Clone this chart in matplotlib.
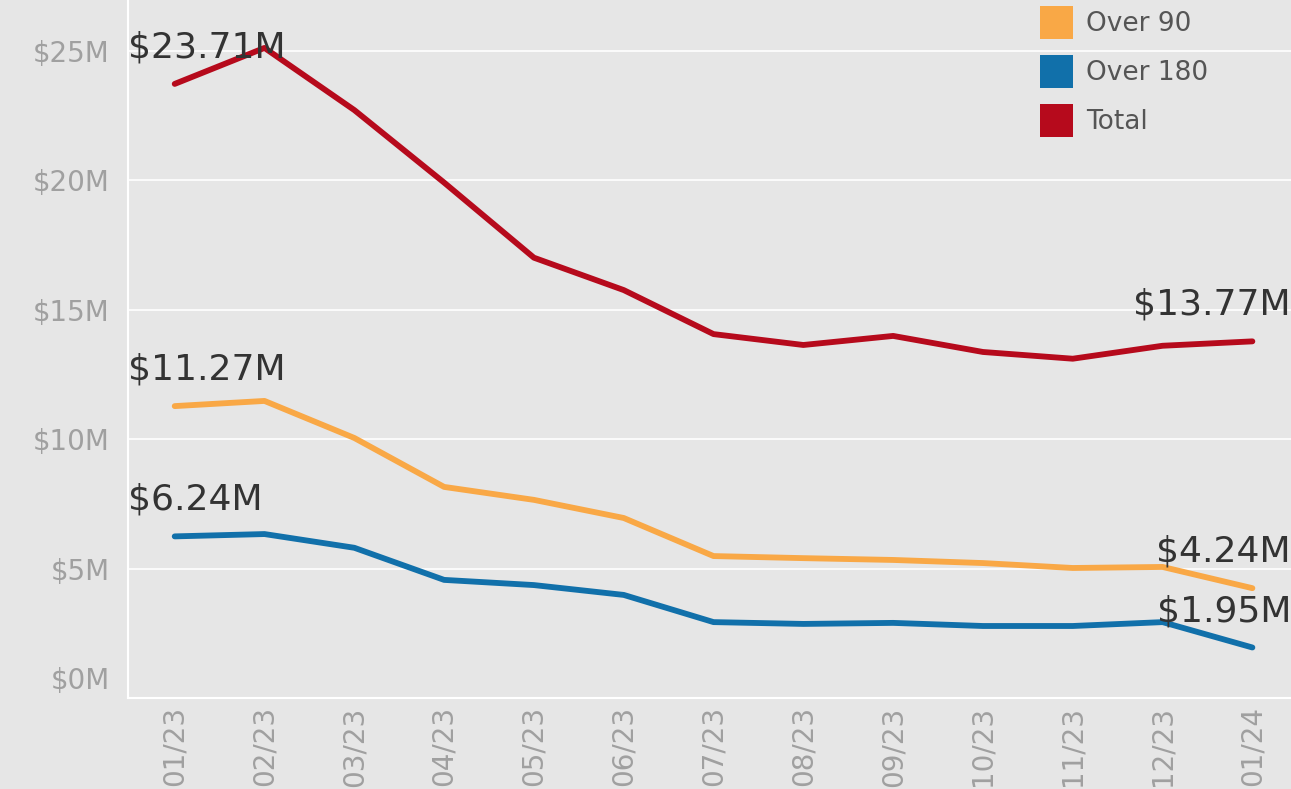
import matplotlib.pyplot as plt
import matplotlib.transforms as mtransforms
from matplotlib.patches import Patch

plt.rcParams['font.family'] = ['DejaVu Sans']

months = ['01/23', '02/23', '03/23', '04/23', '05/23', '06/23', '07/23',
          '08/23', '09/23', '10/23', '11/23', '12/23', '01/24']
total = [23.71, 25.1, 22.7, 19.9, 17.0, 15.75, 14.05, 13.63, 13.98, 13.36, 13.1, 13.6, 13.77]
over90 = [11.27, 11.47, 10.04, 8.15, 7.65, 6.95, 5.48, 5.4, 5.33, 5.21, 5.02, 5.06, 4.24]
over180 = [6.24, 6.33, 5.8, 4.56, 4.36, 3.98, 2.93, 2.86, 2.9, 2.78, 2.78, 2.93, 1.95]
yticks = [0, 5, 10, 15, 20, 25]

c90 = '#f9a846'
c180 = '#1170aa'
ctot = '#b60a1c'
bg = '#e6e6e6'

W, H = 1291, 789
fig = plt.figure(figsize=(W / 100, H / 100), dpi=100, facecolor=bg)
ax = fig.add_axes([128 / W, 1 - 698 / H, 1 - 128 / W, 698 / H])
ax.set_facecolor(bg)

x = list(range(len(months)))
ax.plot(x, total, color=ctot, lw=4.2, solid_capstyle='round', zorder=3)
ax.plot(x, over90, color=c90, lw=4.2, solid_capstyle='round', zorder=3)
ax.plot(x, over180, color=c180, lw=4.2, solid_capstyle='round', zorder=3)

ax.set_xlim(-0.52, 12.43)
ax.set_ylim(0, 26.95)

ax.set_yticks(yticks)
ax.set_yticklabels([f'${v}M' for v in yticks], color='#a0a0a0', fontsize=20)
ax.set_xticks(x)
ax.set_xticklabels(months, rotation=90, color='#a0a0a0', fontsize=20)
ax.tick_params(length=0)
ax.tick_params(axis='y', pad=13)
ax.tick_params(axis='x', pad=6)

# shift the $0M label up like the original
lab0 = ax.get_yticklabels()[0]
lab0.set_transform(lab0.get_transform() + mtransforms.ScaledTranslation(0, 0.2, fig.dpi_scale_trans))

ax.grid(axis='y', color='white', lw=1.2, zorder=1)
for s in ['top', 'right']:
    ax.spines[s].set_visible(False)
ax.spines['left'].set_color('white')
ax.spines['bottom'].set_color('white')
ax.spines['left'].set_linewidth(1.5)
ax.spines['bottom'].set_linewidth(1.5)

# start labels
for series in [total, over90, over180]:
    ax.annotate(f'${series[0]:.2f}M', xy=(-0.52, series[0]), xytext=(0, 19),
                textcoords='offset points', ha='left', va='baseline',
                fontsize=26, color='#333333', zorder=4)
# end labels
for series in [total, over90, over180]:
    ax.annotate(f'${series[-1]:.2f}M', xy=(12.43, series[-1]), xytext=(0, 19),
                textcoords='offset points', ha='right', va='baseline',
                fontsize=26, color='#333333', zorder=4)

handles = [Patch(facecolor=c90, label='Over 90'),
           Patch(facecolor=c180, label='Over 180'),
           Patch(facecolor=ctot, label='Total')]
leg = ax.legend(handles=handles, loc='upper left', frameon=False, fontsize=19,
                handlelength=1.25, handleheight=1.55, handletextpad=0.5,
                labelspacing=0.6, borderaxespad=0.0, borderpad=0.0)
leg.set_bbox_to_anchor((1040 / W, 1.0 - 6 / H), transform=fig.transFigure)
for t in leg.get_texts():
    t.set_color('#555555')

fig.savefig('out.png', dpi=100, facecolor=bg)
